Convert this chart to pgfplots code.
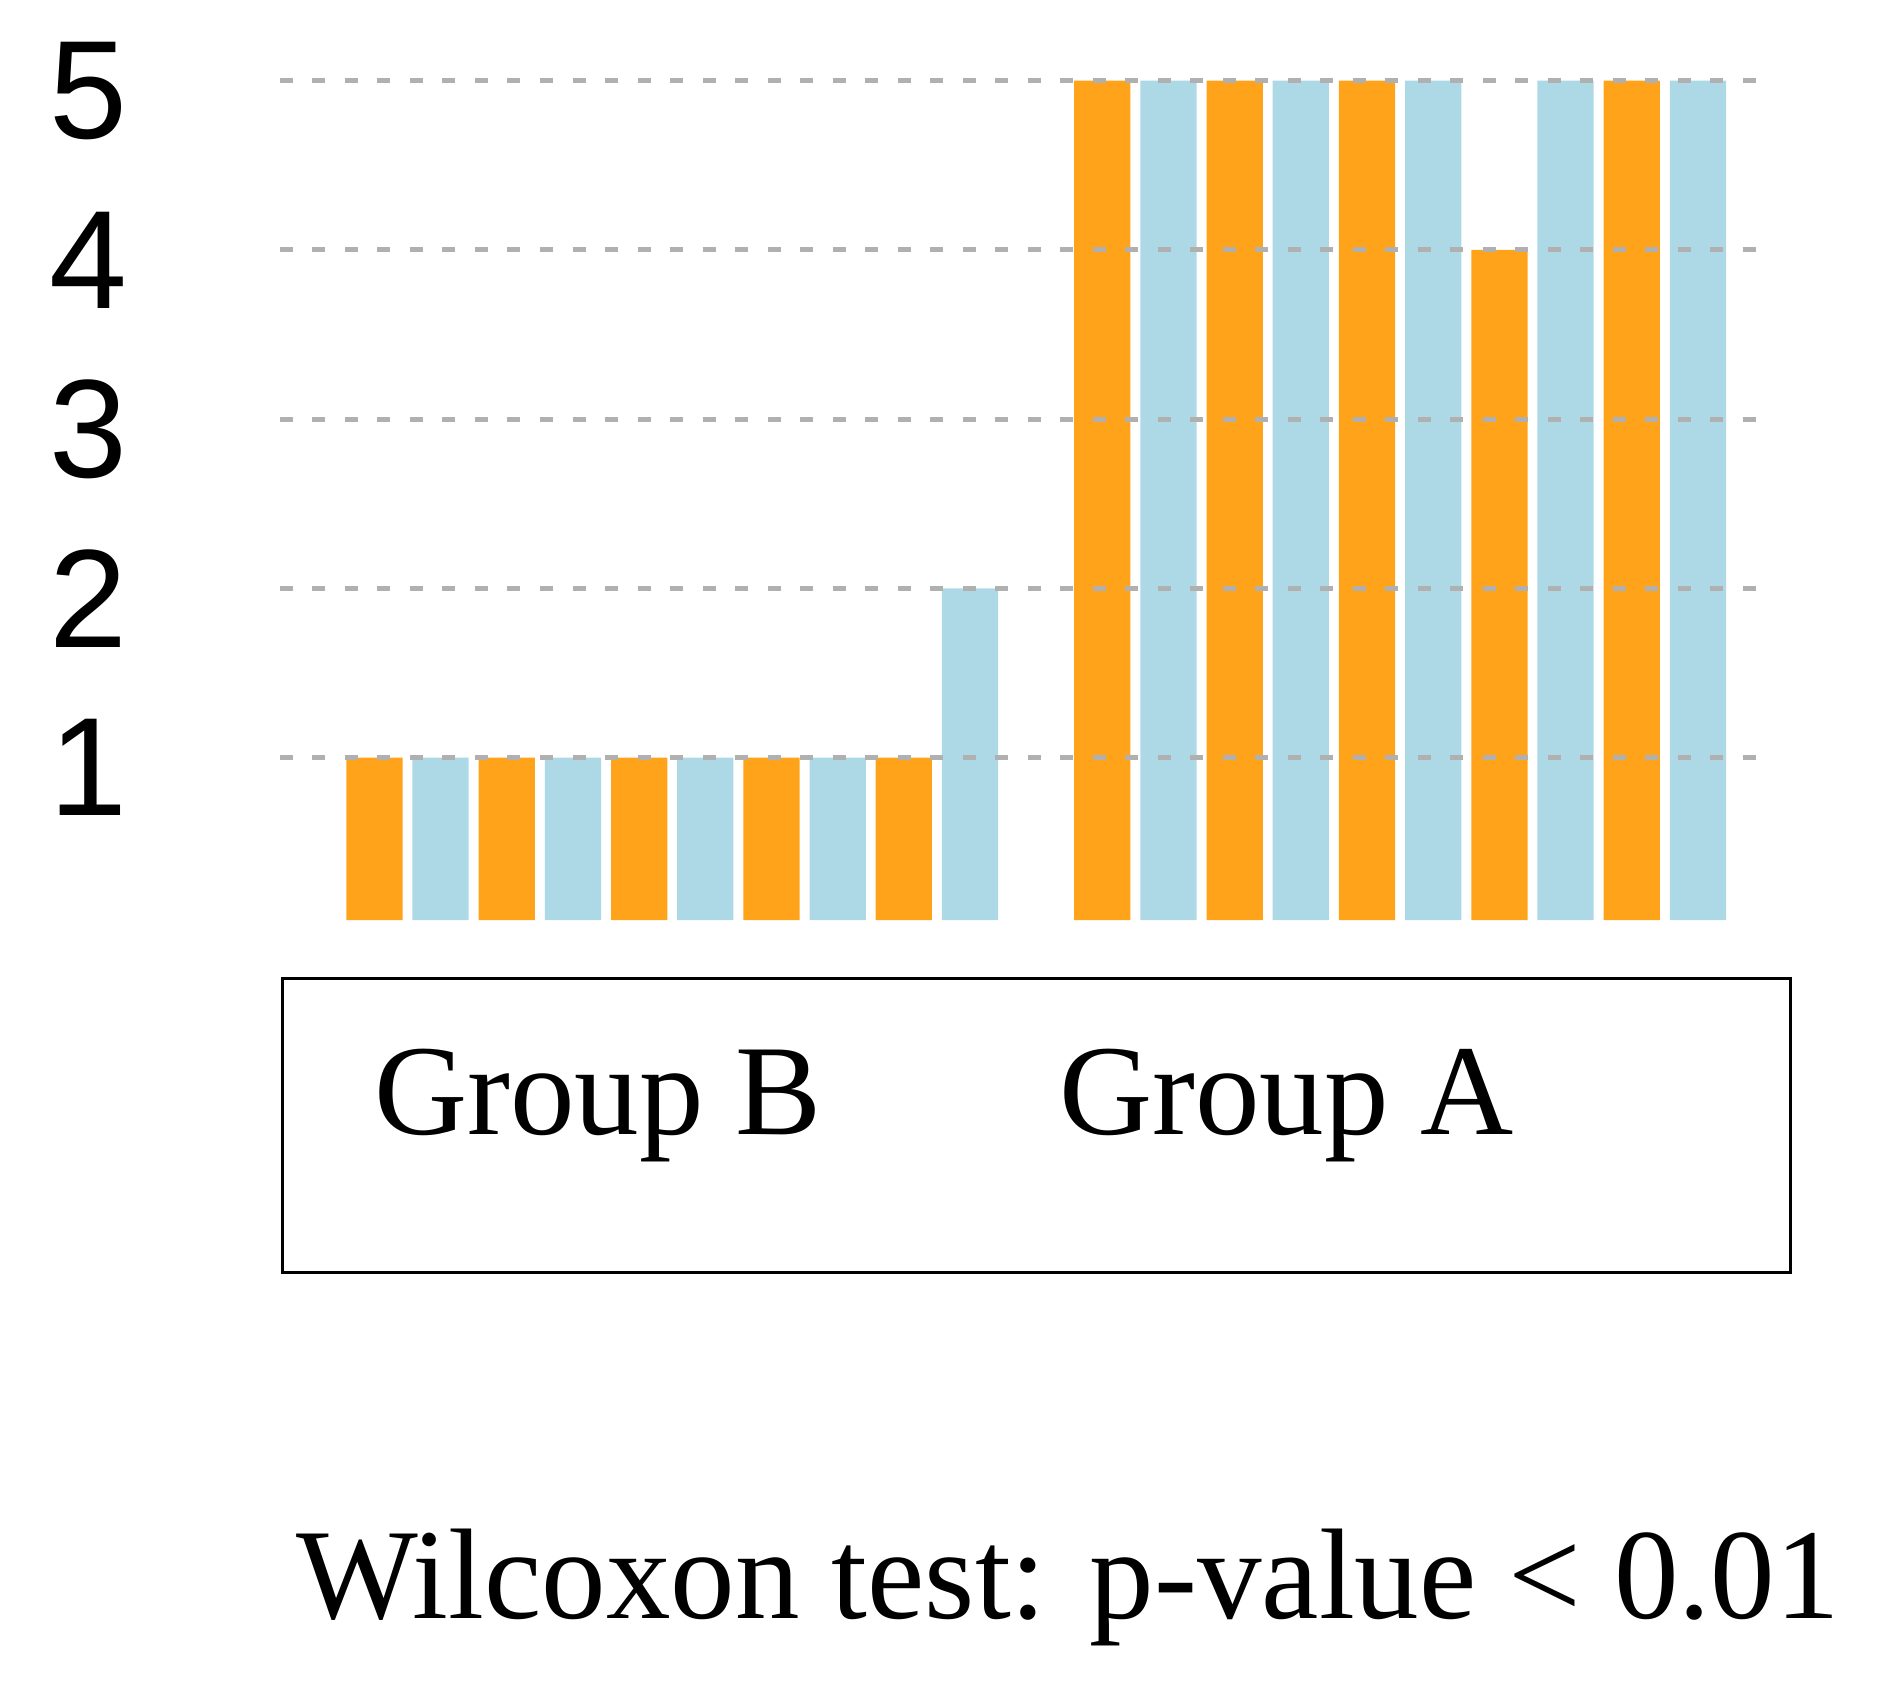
\documentclass[border=0pt]{standalone}
\usepackage{pgfplots}
\pgfplotsset{compat=1.18}
\usepackage{fontspec}
\setmainfont{Liberation Serif}
\setsansfont{Liberation Sans}
\definecolor{barorange}{RGB}{255,163,26}
\definecolor{barblue}{RGB}{173,216,230}
\begin{document}
\begin{tikzpicture}
\path[use as bounding box] (0,0) rectangle (377.2pt,337.8pt);
\begin{axis}[
  at={(56pt,153.76pt)}, anchor=south west,
  scale only axis, width=298.8pt, height=168.42pt,
  xmin=-1.427, xmax=21.15, ymin=0.04, ymax=5.015,
  axis line style={draw=none},
  xtick=\empty,
  ytick={1,2,3,4,5},
  major tick length=0pt,
  ymajorgrids, axis on top,
  major grid style={dash pattern=on 2.6pt off 3.9pt, line width=1pt, color=gray!62},
  /pgf/number format/assume math mode=true,
  yticklabel style={font=\fontsize{28}{28}\sffamily, anchor=center, xshift=-38.3pt, yshift=-2pt},
  ybar, bar width=0.85,
]
\addplot[fill=barorange, draw=none, bar shift=0pt] coordinates {
 (0,1) (2,1) (4,1) (6,1) (8,1)
 (11,5) (13,5) (15,5) (17,4) (19,5)};
\addplot[fill=barblue, draw=none, bar shift=0pt] coordinates {
 (1,1) (3,1) (5,1) (7,1) (9,2)
 (12,5) (14,5) (16,5) (18,5) (20,5)};
\end{axis}
\draw[line width=0.6pt] (56.5pt,83.3pt) rectangle (358pt,142.2pt);
\node[anchor=base west, inner sep=0pt, font=\fontsize{25.8}{25.8}\selectfont] at (74.6pt,111pt) {Group B};
\node[anchor=base west, inner sep=0pt, font=\fontsize{25.8}{25.8}\selectfont] at (211.6pt,111pt) {Group A};
\node[anchor=base west, inner sep=0pt, font=\fontsize{25.8}{25.8}\selectfont] at (59pt,14.2pt) {Wilcoxon test: p-value < 0.01};
\end{tikzpicture}
\end{document}
